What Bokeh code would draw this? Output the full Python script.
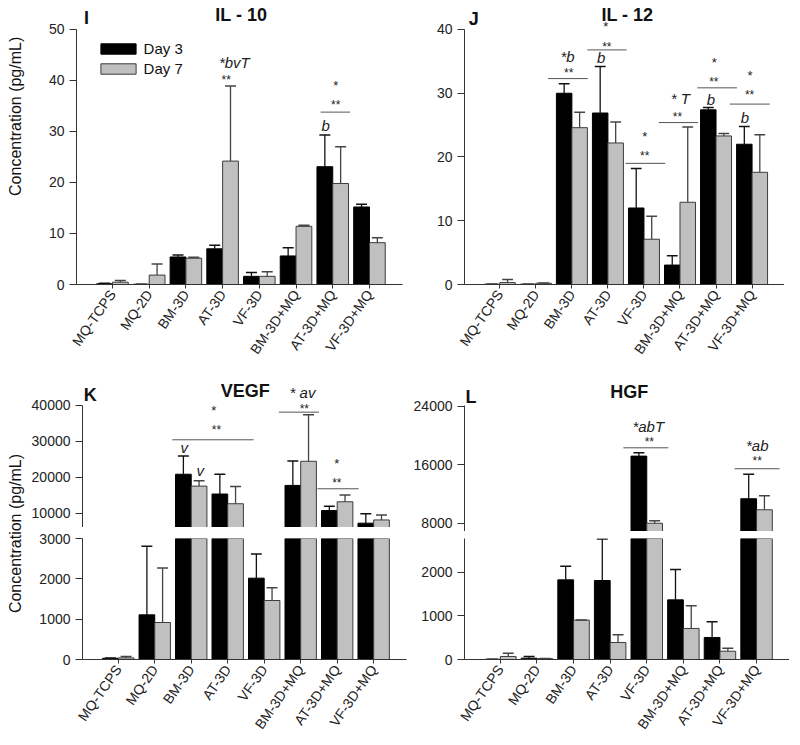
import math
from bokeh.plotting import figure
from bokeh.layouts import row, column
from bokeh.models import Range1d, FixedTicker, Label, Legend, LegendItem, NumeralTickFormatter
from bokeh.embed import file_html
from bokeh.resources import INLINE

# ---------------- data ----------------
categories = ["MQ-TCPS", "MQ-2D", "BM-3D", "AT-3D", "VF-3D", "BM-3D+MQ", "AT-3D+MQ", "VF-3D+MQ"]
positions = list(range(len(categories)))

il10_day3 = [0.15, 0.05, 5.4, 7.0, 1.6, 5.6, 23.1, 15.2]
il10_day3_sd = [0.1, 0.0, 0.4, 0.7, 0.75, 1.6, 6.2, 0.55]
il10_day7 = [0.45, 1.85, 5.15, 24.2, 1.6, 11.4, 19.8, 8.2]
il10_day7_sd = [0.35, 2.15, 0.2, 14.7, 0.9, 0.2, 7.2, 0.95]

il12_day3 = [0.05, 0.05, 30.0, 26.9, 12.0, 3.05, 27.4, 22.0]
il12_day3_sd = [0.0, 0.0, 1.5, 7.3, 6.2, 1.45, 0.35, 2.8]
il12_day7 = [0.3, 0.2, 24.6, 22.2, 7.1, 12.9, 23.3, 17.6]
il12_day7_sd = [0.5, 0.05, 2.4, 3.3, 3.6, 11.8, 0.4, 5.9]

vegf_day3 = [30, 1107, 20900, 15400, 2017, 17800, 10800, 7300]
vegf_day3_sd = [5, 1700, 5100, 5500, 600, 6800, 1200, 2600]
vegf_day7 = [40, 917, 17600, 12700, 1463, 24500, 13250, 8200]
vegf_day7_sd = [35, 1350, 1500, 4800, 314, 12900, 1850, 1350]

hgf_day3 = [5, 30, 1830, 1815, 17200, 1370, 506, 11360]
hgf_day3_sd = [0, 40, 315, 955, 450, 700, 360, 3370]
hgf_day7 = [70, 20, 905, 390, 8000, 713, 190, 9850]
hgf_day7_sd = [75, 5, 0, 177, 340, 521, 70, 1920]

# significance marks: (x, y, text, italic)
il10_marks = [(3.32, 43.5, "*bvT", True), (3.1, 40.0, "**", False),
              (6.08, 39.0, "*", False), (6.08, 35.1, "**", False), (5.81, 31.2, "b", True)]
il10_lines = [(5.67, 6.47, 33.8)]

il12_marks = [(1.88, 35.7, "*b", True), (1.91, 33.1, "**", False),
              (2.94, 40.4, "*", False), (2.97, 37.3, "**", False), (2.81, 35.6, "b", True),
              (4.02, 23.2, "*", False), (4.02, 20.1, "**", False),
              (5.01, 29.1, "* T", True), (4.93, 26.35, "**", False),
              (5.95, 34.8, "*", False), (5.94, 31.7, "**", False), (5.86, 29.0, "b", True),
              (6.94, 32.8, "*", False), (6.93, 29.7, "**", False), (6.8, 26.2, "b", True)]
il12_lines = [(1.34, 2.44, 32.3), (2.43, 3.52, 36.8), (3.49, 4.59, 19.0),
              (4.41, 5.5, 25.4), (5.48, 6.58, 30.85), (6.38, 7.49, 28.3)]

vegf_marks = [(2.62, 38600, "*", False), (2.69, 33250, "**", False),
              (1.81, 28250, "v", True), (2.25, 21950, "v", True),
              (5.05, 43500, "* av", True), (5.1, 39080, "**", False),
              (5.99, 23800, "*", False), (5.99, 18420, "**", False)]
vegf_lines = [(1.48, 3.71, 30470), (4.4, 5.5, 38150), (5.46, 6.59, 16860)]

hgf_marks = [(4.04, 21300, "*abT", True), (4.07, 19100, "**", False),
             (7.02, 18660, "*ab", True), (7.02, 16470, "**", False)]
hgf_lines = [(3.36, 4.59, 18340), (6.4, 7.63, 15470)]

# ---------------- styling ----------------
FONT = "Liberation Sans"
BLACK = "#000000"
GRAY = "#c0c0c0"
AXIS = "#333333"
XR = (-0.98, 7.9)
BW = 0.43
OFF = 0.215
CAP = 0.15


def make_fig(width, height, bl, br, bt, bb, yr, ybounds, yticks, show_x):
    kw = {}
    if not show_x:
        kw["x_axis_location"] = None
    p = figure(width=width, height=height, x_range=Range1d(*XR), y_range=Range1d(*yr),
               output_backend="svg", toolbar_location=None, title=None,
               min_border_left=bl, min_border_right=br, min_border_top=bt, min_border_bottom=bb, **kw)
    p.outline_line_color = None
    p.grid.visible = False
    ya = p.yaxis[0]
    ya.bounds = ybounds
    ya.ticker = FixedTicker(ticks=yticks)
    ya.formatter = NumeralTickFormatter(format="0")
    ya.major_tick_out = 7
    ya.major_tick_in = 0
    ya.minor_tick_out = 0
    ya.minor_tick_in = 0
    ya.major_label_text_font = FONT
    ya.major_label_text_font_size = "14px"
    ya.major_label_text_color = "#222222"
    ya.major_label_standoff = 5
    ya.axis_line_color = AXIS
    ya.major_tick_line_color = AXIS
    if show_x:
        xa = p.xaxis[0]
        xa.ticker = FixedTicker(ticks=positions)
        xa.major_label_overrides = {i: c for i, c in zip(positions, categories)}
        xa.major_label_orientation = math.radians(55)
        xa.major_label_text_font = FONT
        xa.major_label_text_font_size = "14px"
        xa.major_label_text_color = "#222222"
        xa.major_label_standoff = 3
        xa.major_tick_out = 4
        xa.major_tick_in = 0
        xa.minor_tick_out = 0
        xa.minor_tick_in = 0
        xa.axis_line_color = AXIS
        xa.major_tick_line_color = AXIS
    return p


def draw_bars(p, d3, d3sd, d7, d7sd):
    x3 = [x - OFF for x in positions]
    x7 = [x + OFF for x in positions]
    r3 = p.vbar(x=x3, top=d3, bottom=0, width=BW, fill_color=BLACK, line_color=BLACK, line_width=1)
    r7 = p.vbar(x=x7, top=d7, bottom=0, width=BW, fill_color=GRAY, line_color="#3c3c3c", line_width=1)
    for xs, m, sd, col in ((x3, d3, d3sd, "#111111"), (x7, d7, d7sd, "#444444")):
        top = [a + b for a, b in zip(m, sd)]
        p.segment(x0=xs, y0=m, x1=xs, y1=top, line_color=col, line_width=1.3)
        p.segment(x0=[x - CAP for x in xs], y0=top, x1=[x + CAP for x in xs], y1=top,
                  line_color=col, line_width=1.5)
    return r3, r7


def draw_marks(p, marks, lines):
    if lines:
        p.segment(x0=[l[0] for l in lines], y0=[l[2] for l in lines],
                  x1=[l[1] for l in lines], y1=[l[2] for l in lines],
                  line_color="#555555", line_width=1)
    for x, y, t, it in marks:
        if t == "**":
            size = "12px"
        elif it:
            size = "15px"
        else:
            size = "13px"
        p.add_layout(Label(x=x, y=y, text=t, text_align="center", text_baseline="middle",
                           text_font=FONT, text_font_size=size,
                           text_font_style="italic" if it else "normal", text_color="#222222"))


def add_text(p, x, y, t, size="18px", style="bold", angle=0.0):
    p.add_layout(Label(x=x, y=y, text=t, text_align="center", text_baseline="middle",
                       text_font=FONT, text_font_size=size, text_font_style=style,
                       text_color="#111111", angle=angle))


def label_fig(width, height, ypos):
    f = figure(width=width, height=height, x_range=Range1d(0, 1), y_range=Range1d(0, 1),
               x_axis_location=None, y_axis_location=None, output_backend="svg",
               toolbar_location=None, title=None, min_border=0)
    f.outline_line_color = None
    f.grid.visible = False
    add_text(f, 15.0 / width, ypos, "Concentration (pg/mL)", size="16px", style="normal",
             angle=math.pi / 2)
    return f


# ---------------- panel I : IL-10 ----------------
fI = make_fig(382, 380, 48, 8, 0, 96, (0, 55.686), (0, 50), [0, 10, 20, 30, 40, 50], True)
r3, r7 = draw_bars(fI, il10_day3, il10_day3_sd, il10_day7, il10_day7_sd)
draw_marks(fI, il10_marks, il10_lines)
add_text(fI, 3.51, 52.9, "IL - 10")
add_text(fI, -0.71, 52.2, "I")
legend = Legend(items=[LegendItem(label="Day 3", renderers=[r3]), LegendItem(label="Day 7", renderers=[r7])],
                location=(19.6, 206.6), orientation="vertical", padding=0, margin=0, spacing=3,
                glyph_width=44, glyph_height=13, label_height=13, label_standoff=4,
                label_text_font=FONT, label_text_font_size="15px", label_text_color="#111111",
                border_line_color=None, background_fill_alpha=0)
fI.add_layout(legend)
labI = label_fig(28, 380, (380 - 155) / 380)

# ---------------- panel J : IL-12 ----------------
fJ = make_fig(374, 380, 48, 0, 0, 96, (0, 44.549), (0, 40), [0, 10, 20, 30, 40], True)
draw_bars(fJ, il12_day3, il12_day3_sd, il12_day7, il12_day7_sd)
draw_marks(fJ, il12_marks, il12_lines)
add_text(fJ, 3.54, 42.35, "IL - 12")
add_text(fJ, -0.72, 41.7, "J")

# ---------------- panel K : VEGF (broken axis) ----------------
fKt = make_fig(382, 147, 52, 4, 0, 0, (6100, 46944), (6100, 40000), [10000, 20000, 30000, 40000], False)
draw_bars(fKt, vegf_day3, vegf_day3_sd, vegf_day7, vegf_day7_sd)
draw_marks(fKt, vegf_marks, vegf_lines)
add_text(fKt, 3.48, 43890, "VEGF")
add_text(fKt, -0.77, 42780, "K")

fKb = make_fig(382, 216, 52, 4, 11, 84, (0, 3000), (0, 3000), [0, 1000, 2000, 3000], True)
draw_bars(fKb, vegf_day3, vegf_day3_sd, vegf_day7, vegf_day7_sd)
labK = label_fig(28, 363, (743 - 533) / 363)

# ---------------- panel L : HGF (broken axis) ----------------
fLt = make_fig(379, 151, 53, 0, 0, 0, (6873, 27560), (6873, 24140), [8000, 16000, 24000], False)
draw_bars(fLt, hgf_day3, hgf_day3_sd, hgf_day7, hgf_day7_sd)
draw_marks(fLt, hgf_marks, hgf_lines)
add_text(fLt, 3.52, 26050, "HGF")
add_text(fLt, -0.8, 25270, "L")

fLb = make_fig(379, 212, 53, 0, 7, 84, (0, 2780), (0, 2780), [0, 1000, 2000], True)
draw_bars(fLb, hgf_day3, hgf_day3_sd, hgf_day7, hgf_day7_sd)

left = column(row(labI, fI), row(labK, column(fKt, fKb)))
right = column(fJ, fLt, fLb)
layout = row(left, right)

open("out.html", "w").write(file_html(layout, INLINE))
